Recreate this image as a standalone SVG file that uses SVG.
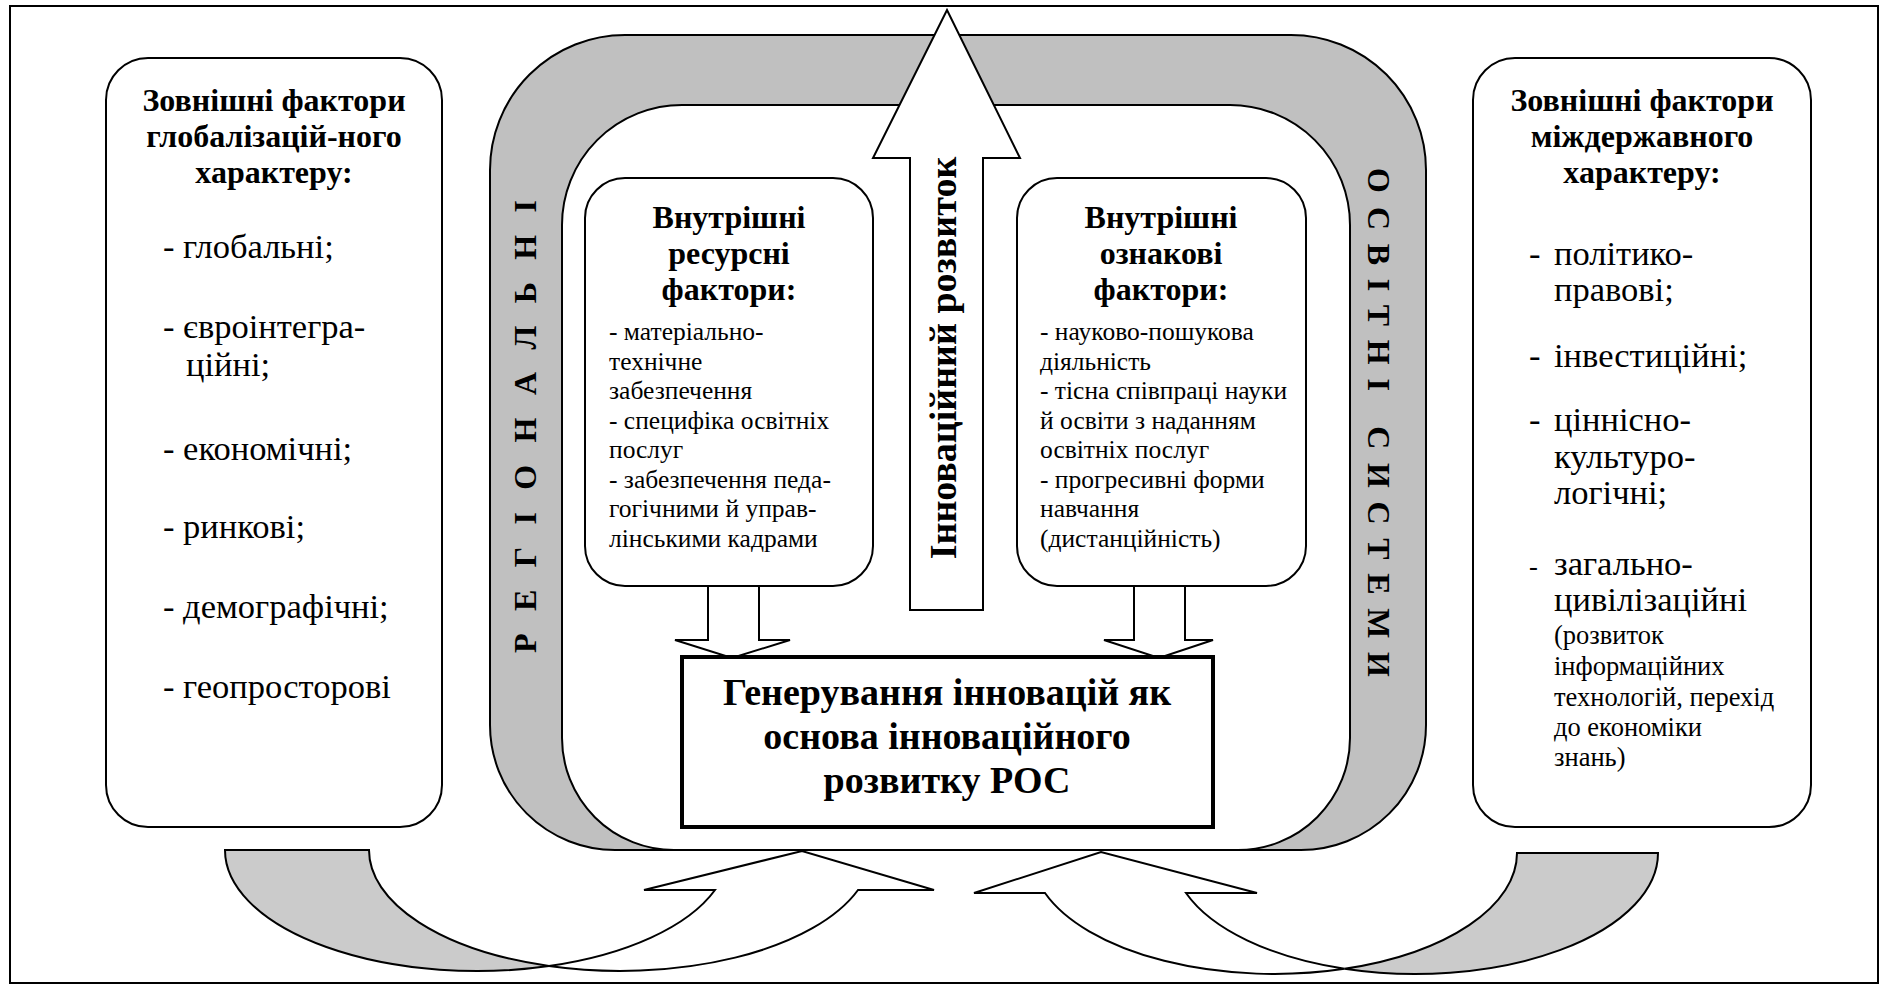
<svg xmlns="http://www.w3.org/2000/svg" width="1885" height="987" viewBox="0 0 1885 987">
<style>
.wb{fill:#fff;stroke:#000;stroke-width:2}
.gr{fill:#c0c0c0;stroke:#000;stroke-width:2}
.ga{fill:#cbcbcb;stroke:#000;stroke-width:2}
text{font-family:"Liberation Serif","Times New Roman",serif;fill:#000}
.t{font-weight:bold;font-size:32px;text-anchor:middle}
.i{font-size:34.5px}
.s{font-size:25.5px}
.r{font-size:26.5px}
.g{font-weight:bold;font-size:38px;text-anchor:middle}
.v{font-weight:bold;font-size:32px}
</style>
<rect x="0" y="0" width="1885" height="987" fill="#fff"/>
<rect id="frame" x="10" y="6" width="1868" height="977" fill="none" stroke="#000" stroke-width="2"/>

<g id="regional-system">
<path class="gr" d="M490,170 A135,135 0 0 1 625,35 L1291,35 A135,135 0 0 1 1426,170 L1426,725 A125,125 0 0 1 1301,850 L615,850 A125,125 0 0 1 490,725 Z"/>
<path class="wb" d="M562,225 A120,120 0 0 1 682,105 L1230,105 A120,120 0 0 1 1350,225 L1350,738 A112,112 0 0 1 1238,850 L674,850 A112,112 0 0 1 562,738 Z"/>
<text class="v" transform="translate(536,426.5) rotate(-90)" text-anchor="middle" textLength="453" lengthAdjust="spacing">РЕГІОНАЛЬНІ</text>
<text class="v" transform="translate(1368,422.5) rotate(90)" text-anchor="middle" textLength="509" lengthAdjust="spacing">ОСВІТНІ  СИСТЕМИ</text>
</g>

<g id="external-global">
<rect class="wb" x="106" y="58" width="336" height="769" rx="42"/>
<text class="t" x="274" y="111">Зовнішні фактори</text>
<text class="t" x="274" y="147">глобалізацій-ного</text>
<text class="t" x="274" y="183">характеру:</text>
<text class="i" x="163" y="258">- глобальні;</text>
<text class="i" x="163" y="338">- євроінтегра-</text>
<text class="i" x="186" y="376">ційні;</text>
<text class="i" x="163" y="460">- економічні;</text>
<text class="i" x="163" y="538">- ринкові;</text>
<text class="i" x="163" y="618">- демографічні;</text>
<text class="i" x="163" y="698">- геопросторові</text>
</g>

<g id="external-interstate">
<rect class="wb" x="1473" y="58" width="338" height="769" rx="42"/>
<text class="t" x="1642" y="111">Зовнішні фактори</text>
<text class="t" x="1642" y="147">міждержавного</text>
<text class="t" x="1642" y="183">характеру:</text>
<text class="i" x="1529" y="265">-</text><text class="i" x="1554" y="265">політико-</text>
<text class="i" x="1554" y="301">правові;</text>
<text class="i" x="1529" y="367">-</text><text class="i" x="1554" y="367">інвестиційні;</text>
<text class="i" x="1529" y="431">-</text><text class="i" x="1554" y="431">ціннісно-</text>
<text class="i" x="1554" y="468">культуро-</text>
<text class="i" x="1554" y="504">логічні;</text>
<text class="r" x="1529" y="575">-</text><text class="i" x="1554" y="575">загально-</text>
<text class="i" x="1554" y="611">цивілізаційні</text>
<text class="r" x="1554" y="644">(розвиток</text>
<text class="r" x="1554" y="675">інформаційних</text>
<text class="r" x="1554" y="706">технологій, перехід</text>
<text class="r" x="1554" y="736">до економіки</text>
<text class="r" x="1554" y="766">знань)</text>
</g>

<g id="connectors">
<path id="curved-left-back" class="ga" d="M225,850 L369,850 A252,121 0 0 0 549,966 A252,121 0 0 1 225,850 Z"/>
<path id="curved-left-front" class="wb" d="M549,966 A252,121 0 0 0 858,890 L934,890 L802,851 L644,890 L715,890 A252,121 0 0 1 549,966 Z"/>
<path id="curved-right-back" class="ga" d="M1658,853 L1517,853 A243,121 0 0 1 1344.5,968.8 A243,121 0 0 0 1658,853 Z"/>
<path id="curved-right-front" class="wb" d="M1344.5,968.8 A243,121 0 0 1 1045,893 L974,893 L1101,852 L1257,893 L1186,893 A243,121 0 0 0 1344.5,968.8 Z"/>
<path id="up-arrow" class="wb" d="M910,610 L910,158 L873,158 L947,10 L1020,158 L983,158 L983,610 Z"/>
<path id="down-left" class="wb" d="M708,586 L708,640 L675,640 L732,658 L790,640 L759,640 L759,586"/>
<path id="down-right" class="wb" d="M1134,586 L1134,640 L1104,640 L1159,658 L1213,640 L1185,640 L1185,586"/>
<text class="g" transform="translate(956,358) rotate(-90)">Інноваційний розвиток</text>
</g>

<g id="internal-resource">
<rect class="wb" x="585" y="178" width="288" height="408" rx="40"/>
<text class="t" x="729" y="228">Внутрішні</text>
<text class="t" x="729" y="264">ресурсні</text>
<text class="t" x="729" y="300">фактори:</text>
<text class="s" x="609" y="340">- матеріально-</text>
<text class="s" x="609" y="369.5">технічне</text>
<text class="s" x="609" y="399">забезпечення</text>
<text class="s" x="609" y="428.5">- специфіка освітніх</text>
<text class="s" x="609" y="458">послуг</text>
<text class="s" x="609" y="487.5">- забезпечення педа-</text>
<text class="s" x="609" y="517">гогічними й управ-</text>
<text class="s" x="609" y="546.5">лінськими кадрами</text>
</g>

<g id="internal-sign">
<rect class="wb" x="1017" y="178" width="289" height="408" rx="40"/>
<text class="t" x="1161" y="228">Внутрішні</text>
<text class="t" x="1161" y="264">ознакові</text>
<text class="t" x="1161" y="300">фактори:</text>
<text class="s" x="1040" y="340">- науково-пошукова</text>
<text class="s" x="1040" y="369.5">діяльність</text>
<text class="s" x="1040" y="399">- тісна співпраці науки</text>
<text class="s" x="1040" y="428.5">й освіти з наданням</text>
<text class="s" x="1040" y="458">освітніх послуг</text>
<text class="s" x="1040" y="487.5">- прогресивні форми</text>
<text class="s" x="1040" y="517">навчання</text>
<text class="s" x="1040" y="546.5">(дистанційність)</text>
</g>

<g id="generation">
<rect x="682" y="657" width="531" height="170" fill="#fff" stroke="#000" stroke-width="4"/>
<text class="g" x="947" y="705">Генерування інновацій як</text>
<text class="g" x="947" y="749">основа інноваційного</text>
<text class="g" x="947" y="793">розвитку РОС</text>
</g>
</svg>
